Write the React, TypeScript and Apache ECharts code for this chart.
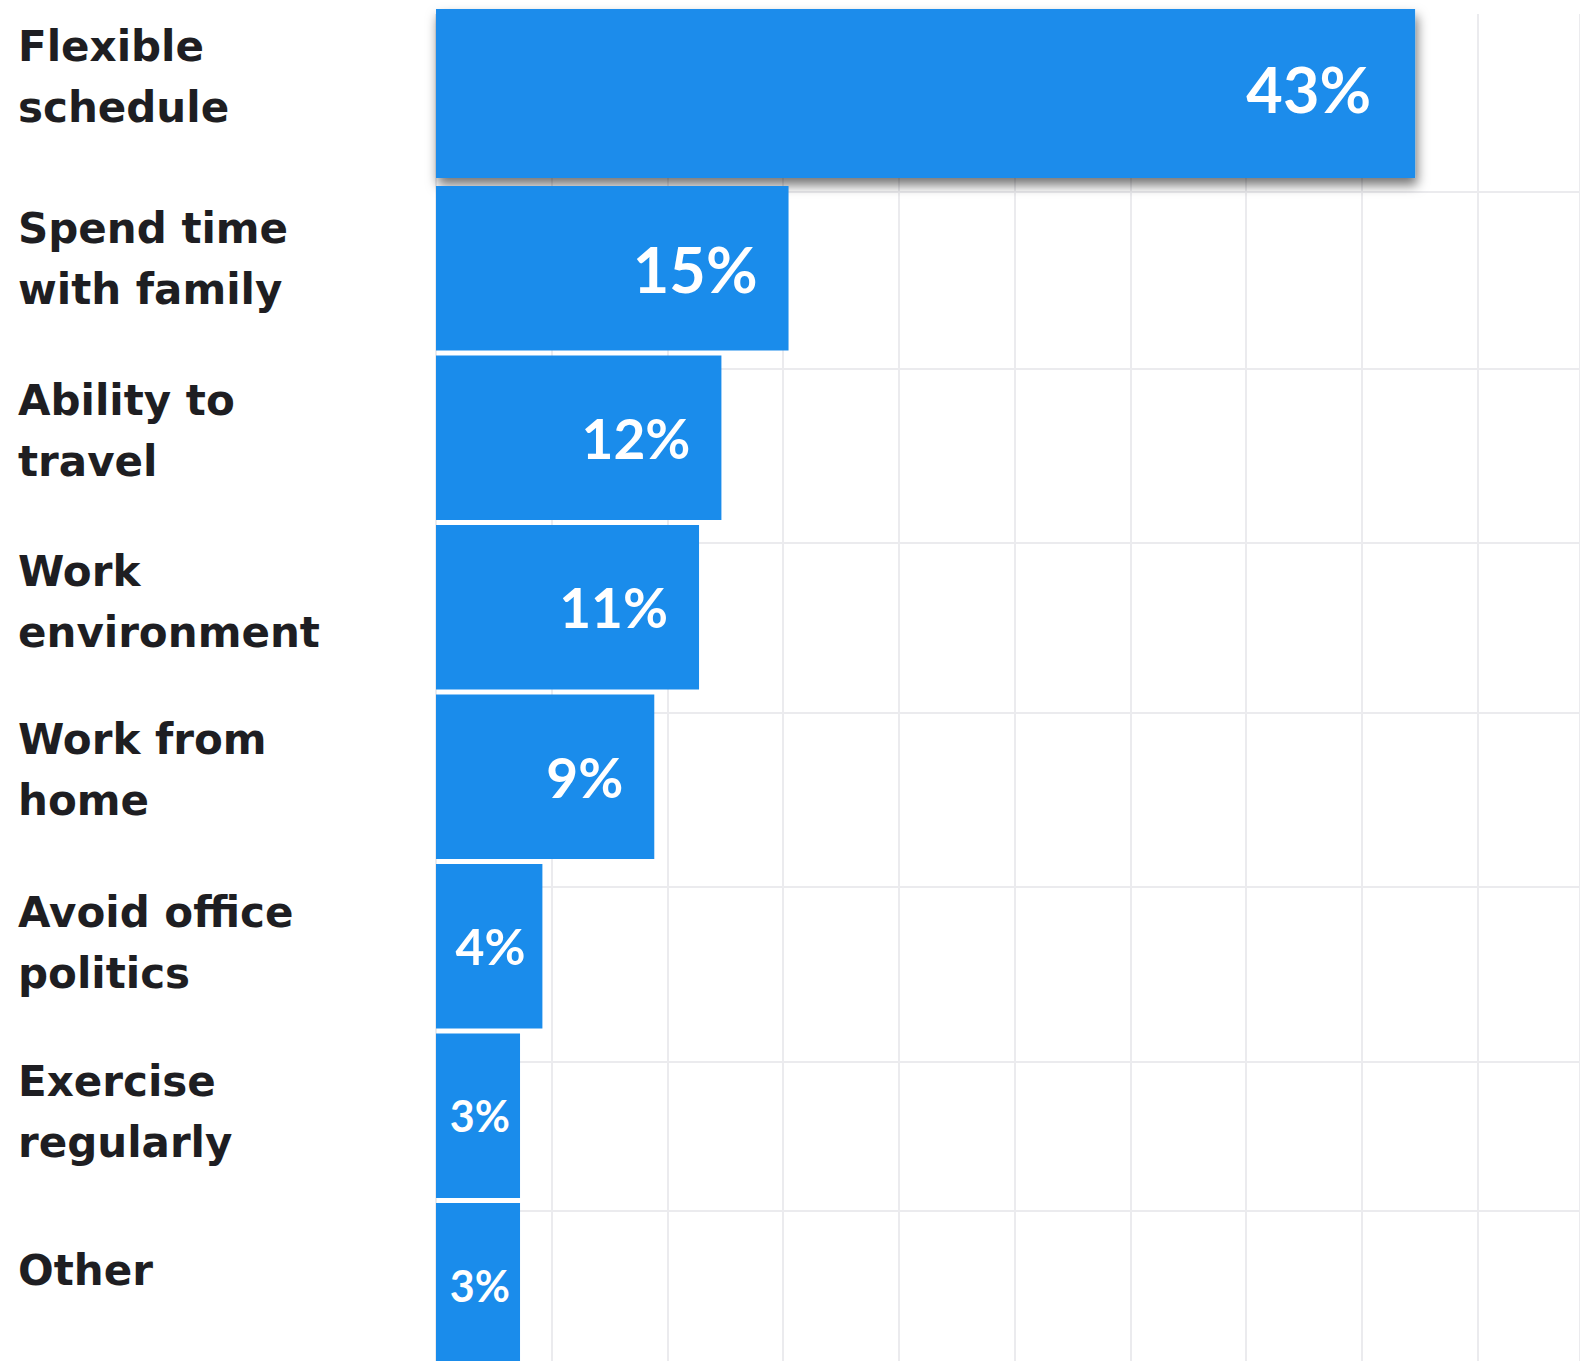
import React, { useEffect, useRef } from "react";
import * as echarts from "echarts";

const categories = [
  "Flexible\nschedule",
  "Spend time\nwith family",
  "Ability to\ntravel",
  "Work\nenvironment",
  "Work from\nhome",
  "Avoid office\npolitics",
  "Exercise\nregularly",
  "Other",
];
const values = [43, 15, 12, 11, 9, 4, 3, 3];
// background grid rows (in row units of the category band scale)
const rowLines = [1.05, 2.09, 3.12, 4.12, 5.15, 6.18, 7.06];

const BAR = "#1a8ceb";
const GRID = "#ebebee";
const AXIS_MIN = -0.755;
const AXIS_MAX = 50.37;

// upward nudge (px) of each category label from its band centre
const labelLift = [22, 9, 7, 5, 7, 3, 4, 15];

function labelSize(v: number) {
  if (v >= 15) return 63;
  if (v >= 9) return 55;
  if (v >= 4) return 50;
  return 43;
}
function labelDist(v: number) {
  if (v >= 40) return 44;
  if (v >= 9) return 31;
  if (v >= 4) return 17;
  return 10;
}

export default function App() {
  const ref = useRef<HTMLDivElement>(null);
  useEffect(() => {
    if (!ref.current) return;
    const chart = echarts.init(ref.current, undefined, { renderer: "svg" });
    chart.setOption({
      animation: false,
      backgroundColor: "#ffffff",
      grid: {
        left: 436,
        top: 14,
        right: 0,
        height: 1356,
        containLabel: false,
        outerBoundsMode: "none",
      },
      xAxis: [
        { type: "value", min: AXIS_MIN, max: AXIS_MAX, show: false },
        {
          type: "value",
          min: 0,
          max: 49.42,
          interval: 5,
          position: "bottom",
          axisLine: { show: false },
          axisTick: { show: false },
          axisLabel: { show: false },
          splitLine: { show: true, lineStyle: { color: GRID, width: 2 } },
        },
      ],
      yAxis: [
        {
          type: "category",
          inverse: true,
          data: categories,
          axisLine: { show: false },
          axisTick: { show: false },
          splitLine: { show: false },
          axisLabel: { show: false },
        },
        { type: "value", min: 0, max: 8, inverse: true, show: false },
      ],
      series: [
        {
          type: "line",
          xAxisIndex: 1,
          yAxisIndex: 1,
          data: [],
          silent: true,
          z: 1,
          markLine: {
            z: 1,
            silent: true,
            symbol: ["none", "none"],
            label: { show: false },
            lineStyle: { color: GRID, width: 2, type: "solid" },
            data: rowLines.map((v) => ({ yAxis: v })),
          },
        },
        {
          type: "custom",
          xAxisIndex: 0,
          yAxisIndex: 0,
          z: 3,
          clip: false,
          encode: { x: 1, y: 0 },
          data: values.map((v, i) => [i, v]),
          renderItem: (params: any, api: any) => {
            const i = params.dataIndex;
            const cat = api.value(0);
            const v = api.value(1);
            const band = api.size([0, 1])[1];
            const p0 = api.coord([AXIS_MIN, cat]);
            const p1 = api.coord([v, cat]);
            const h = band - 5;
            let y = p0[1] - h / 2;
            let hh = h;
            const lifted = i === 0;
            if (lifted) {
              y -= 7.5;
              hh += 4.5;
            }
            const rectStyle: any = { fill: BAR };
            if (lifted) {
              rectStyle.shadowColor = "rgba(0,0,0,0.55)";
              rectStyle.shadowBlur = 12;
              rectStyle.shadowOffsetX = 2;
              rectStyle.shadowOffsetY = 7;
            }
            return {
              type: "group",
              children: [
                {
                  type: "text",
                  style: {
                    text: categories[cat],
                    x: 18,
                    y: p0[1] - labelLift[i],
                    align: "left",
                    verticalAlign: "middle",
                    fill: "#1e1e22",
                    fontFamily: "DejaVu Sans",
                    fontWeight: "bold",
                    fontSize: 42,
                    lineHeight: 61,
                  },
                },
                {
                  type: "rect",
                  shape: { x: p0[0], y, width: p1[0] - p0[0], height: hh },
                  style: rectStyle,
                },
                {
                  type: "text",
                  style: {
                    text: `${v}%`,
                    x: p1[0] - labelDist(v),
                    y: y + hh / 2 + (lifted ? -5 : 0),
                    align: "right",
                    verticalAlign: "middle",
                    fill: "#ffffff",
                    fontFamily: "Lato",
                    fontWeight: "bold",
                    fontSize: labelSize(v),
                  },
                },
              ],
            };
          },
        },
      ],
    });
    return () => chart.dispose();
  }, []);
  return (
    <div
      style={{
        position: "absolute",
        left: 0,
        top: 0,
        width: 1580,
        height: 1361,
        overflow: "hidden",
        background: "#ffffff",
      }}
    >
      <div ref={ref} style={{ width: 1580, height: 1400 }} />
    </div>
  );
}
